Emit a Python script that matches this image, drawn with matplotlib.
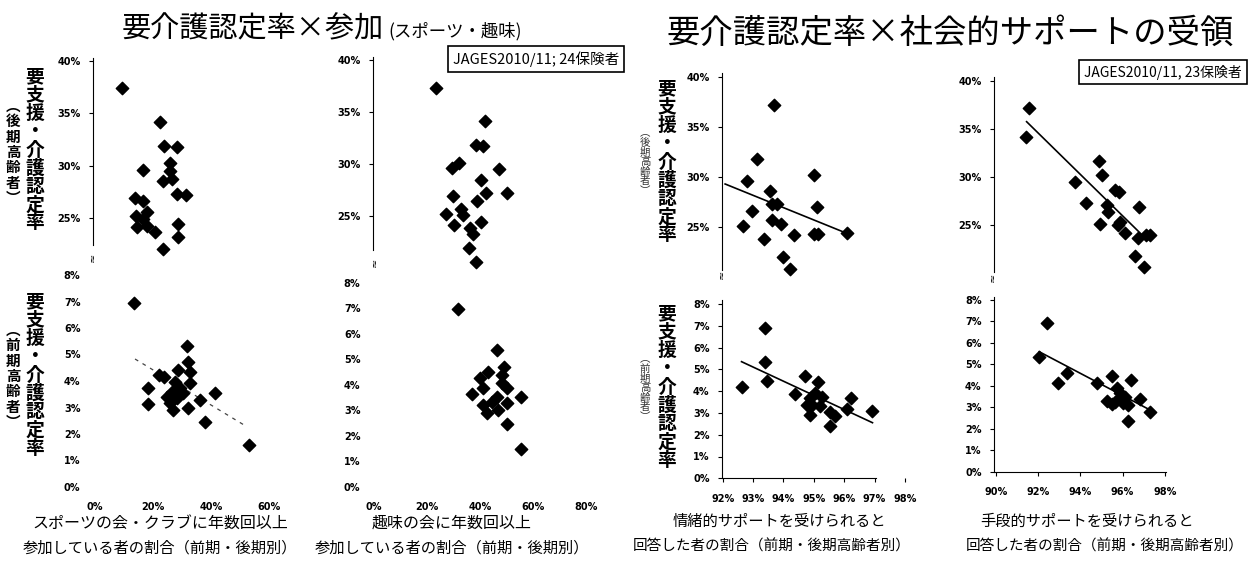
import matplotlib.pyplot as plt

plt.rcParams['font.family'] = ['Noto Sans CJK JP', 'DejaVu Sans']

W, H = 1258, 563

# --- data (percent) ---
sport_late_x = [9.4, 22.4, 23.8, 28.4, 16.4, 25.9, 25.9, 23.3, 26.4, 28.2, 31.4,
                13.7, 16.4, 17.8, 14.1, 16.7, 14.4, 17.8, 20.7, 28.7, 28.7, 23.6]
sport_late_y = [37.4, 34.2, 31.9, 31.8, 29.6, 30.3, 29.5, 28.5, 28.7, 27.3, 27.2,
                26.9, 26.6, 25.6, 25.2, 24.9, 24.1, 24.2, 23.7, 24.4, 23.2, 22.0]
sport_early_x = [13.6, 31.6, 32.2, 28.7, 22.2, 23.9, 32.8, 32.8, 18.4, 18.4, 27.6, 29.3,
                 24.7, 25.9, 27.0, 28.2, 32.2, 36.2, 41.4, 37.9, 53.2, 30.4, 26.4]
sport_early_y = [6.93, 5.33, 4.73, 4.42, 4.23, 4.16, 4.35, 3.91, 3.72, 3.13, 3.97, 3.72,
                 3.41, 3.16, 2.91, 3.35, 2.97, 3.28, 3.54, 2.46, 1.58, 3.54, 3.60]
sport_early_fit_x = [13.8, 52.3]
sport_early_fit_y = [4.83, 2.28]

hobby_late_x = [23.4, 41.9, 38.4, 41.2, 32.2, 29.3, 47.2, 40.3, 42.2, 50.1, 29.7,
                39.0, 27.1, 32.8, 33.5, 30.2, 36.2, 37.5, 40.4, 36.0, 38.5]
hobby_late_y = [37.3, 34.1, 31.8, 31.7, 30.1, 29.6, 29.5, 28.5, 27.2, 27.2, 26.9,
                26.4, 25.2, 25.7, 25.1, 24.1, 23.8, 23.3, 24.4, 21.9, 20.6]
hobby_early_x = [31.8, 46.5, 49.2, 43.1, 48.2, 40.0, 48.2, 41.2, 50.1, 37.1, 55.4,
                 46.3, 44.4, 41.2, 50.1, 46.9, 42.5, 50.1, 55.5]
hobby_early_y = [6.96, 5.36, 4.71, 4.51, 4.38, 4.25, 4.05, 3.86, 3.86, 3.64, 3.51,
                 3.53, 3.33, 3.20, 3.27, 3.01, 2.88, 2.46, 1.48]

emo_late_x = [93.70, 93.14, 92.79, 95.01, 93.56, 93.78, 93.61, 95.11, 92.97, 93.61,
              93.92, 92.68, 93.37, 94.36, 95.01, 95.15, 96.08, 93.99, 94.21]
emo_late_y = [37.2, 31.8, 29.6, 30.2, 28.6, 27.3, 27.3, 27.0, 26.6, 25.7,
              25.3, 25.1, 23.8, 24.2, 24.3, 24.3, 24.4, 22.0, 20.8]
emo_late_fit_x = [92.08, 96.08]
emo_late_fit_y = [29.27, 24.34]
emo_early_x = [93.39, 93.39, 93.45, 92.62, 94.71, 94.38, 95.14, 95.04, 94.87, 95.26,
               94.93, 95.20, 94.87, 95.53, 95.70, 95.53, 96.21, 96.10, 96.93, 94.76]
emo_early_y = [6.88, 5.32, 4.48, 4.20, 4.71, 3.87, 4.43, 3.90, 3.67, 3.74,
               3.36, 3.32, 2.90, 3.06, 2.87, 2.40, 3.67, 3.17, 3.10, 3.36]
emo_early_fit_x = [92.62, 96.93]
emo_early_fit_y = [5.35, 2.55]

inst_late_x = [91.58, 91.41, 94.90, 95.01, 93.74, 94.25, 95.64, 95.84, 95.25, 95.32,
               96.79, 94.93, 95.88, 95.80, 96.11, 96.74, 97.11, 97.30, 96.59, 97.01]
inst_late_y = [37.19, 34.12, 31.68, 30.20, 29.50, 27.26, 28.64, 28.46, 27.08, 26.38,
               26.90, 25.07, 25.34, 25.00, 24.20, 23.62, 23.96, 23.96, 21.78, 20.67]
inst_late_fit_x = [91.45, 97.01]
inst_late_fit_y = [35.74, 23.78]
inst_early_x = [92.40, 92.05, 93.35, 92.95, 94.77, 95.48, 96.38, 95.72, 95.88, 96.11,
                95.25, 95.64, 96.00, 96.27, 96.82, 97.30, 96.27, 95.88, 95.48]
inst_early_y = [6.94, 5.33, 4.61, 4.15, 4.15, 4.46, 4.27, 3.89, 3.65, 3.49,
                3.31, 3.26, 3.19, 3.11, 3.39, 2.80, 2.38, 3.42, 3.15]
inst_early_fit_x = [92.05, 97.45]
inst_early_fit_y = [5.59, 2.80]

late_ticks = [25, 30, 35, 40]
early_ticks = [0, 1, 2, 3, 4, 5, 6, 7, 8]
sport_xticks = [0, 20, 40, 60]
hobby_xticks = [0, 20, 40, 60, 80]
emo_xticks = [92, 93, 94, 95, 96, 97, 98]
inst_xticks = [90, 92, 94, 96, 98]

fig = plt.figure(figsize=(W / 100, H / 100), dpi=100)


def add_panel(box, xcal, ycal):
    # box: left, right, top, bottom in pixels; cal: (pixel, value, px per unit)
    l, r, t, b = box
    ax = fig.add_axes([l / W, 1 - b / H, (r - l) / W, (b - t) / H])
    ax.set_xlim(xcal[1] + (l - xcal[0]) / xcal[2], xcal[1] + (r - xcal[0]) / xcal[2])
    ax.set_ylim(ycal[1] + (ycal[0] - b) / ycal[2], ycal[1] + (ycal[0] - t) / ycal[2])
    ax.patch.set_alpha(0)
    for s in ['top', 'right']:
        ax.spines[s].set_visible(False)
    ax.tick_params(labelsize=7, length=3, width=0.8, pad=3)
    return ax


def pct(ticks):
    return ['%d%%' % v for v in ticks]


def scatter(ax, xs, ys):
    ax.scatter(xs, ys, marker='D', s=40, color='black', clip_on=False, zorder=3)


def top_style(ax):
    ax.spines['bottom'].set_visible(False)
    ax.set_xticks([])
    ax.set_yticks(late_ticks)
    ax.set_yticklabels(pct(late_ticks), fontsize=7, fontweight='bold', family='DejaVu Sans')
    ax.tick_params(axis='y', pad=6)


def bottom_style(ax, xticks, spines):
    ax.set_yticks(early_ticks)
    ax.set_yticklabels(pct(early_ticks), fontsize=7, fontweight='bold', family='DejaVu Sans')
    ax.set_xticks(xticks)
    ax.set_xticklabels(pct(xticks), fontsize=7, fontweight='bold', family='DejaVu Sans')
    if not spines:
        ax.spines['left'].set_visible(False)
        ax.spines['bottom'].set_visible(False)
        ax.tick_params(length=0, pad=9)
    else:
        ax.tick_params(axis='y', pad=6)
        ax.tick_params(axis='x', pad=8)


# column 1: sports
ax = add_panel((93, 290, 58, 245), (95, 0, 2.9), (61, 40, 10.47))
top_style(ax)
scatter(ax, sport_late_x, sport_late_y)
ax = add_panel((93, 290, 268, 490), (95, 0, 2.9), (487, 0, 26.5))
bottom_style(ax, sport_xticks, False)
ax.plot(sport_early_fit_x, sport_early_fit_y, color='#444444', lw=0.9, ls=(0, (3, 4)))
scatter(ax, sport_early_x, sport_early_y)

# column 2: hobby
ax = add_panel((373, 600, 57, 250), (374, 0, 2.65), (60, 40, 10.4))
top_style(ax)
scatter(ax, hobby_late_x, hobby_late_y)
ax = add_panel((373, 600, 275, 490), (374, 0, 2.65), (486.7, 0, 25.5))
bottom_style(ax, hobby_xticks, False)
scatter(ax, hobby_early_x, hobby_early_y)

# column 3: emotional support
ax = add_panel((722, 905, 73, 270), (722.7, 92, 30.4), (76.7, 40, 10))
top_style(ax)
ax.plot(emo_late_fit_x, emo_late_fit_y, color='black', lw=1.2)
scatter(ax, emo_late_x, emo_late_y)
ax = add_panel((722, 905, 300, 478.3), (722.7, 92, 30.4), (478.3, 0, 21.8))
bottom_style(ax, emo_xticks, True)
ax.spines['bottom'].set_bounds(92, 97.05)
ax.plot(emo_early_fit_x, emo_early_fit_y, color='black', lw=1.2)
scatter(ax, emo_early_x, emo_early_y)

# column 4: instrumental support
ax = add_panel((994, 1166, 77, 272), (996, 90, 21.1), (80.7, 40, 9.62))
top_style(ax)
ax.plot(inst_late_fit_x, inst_late_fit_y, color='black', lw=1.2)
scatter(ax, inst_late_x, inst_late_y)
ax = add_panel((994, 1166, 297, 471.7), (996, 90, 21.1), (471.7, 0, 21.46))
bottom_style(ax, inst_xticks, True)
ax.plot(inst_early_fit_x, inst_early_fit_y, color='black', lw=1.2)
scatter(ax, inst_early_x, inst_early_y)


def ftext(x, y, s, **kw):
    fig.text(x / W, 1 - y / H, s, **kw)


# axis break marks
for bx, by in [(93, 257), (375, 262), (722, 274), (993, 277)]:
    ftext(bx, by, '≈', fontsize=8, ha='center', va='center', rotation=90, family='DejaVu Sans')

# titles
ftext(122, 37, '要介護認定率×参加', fontsize=21, ha='left', va='baseline')
ftext(388, 36, '(スポーツ・趣味)', fontsize=12.5, ha='left', va='baseline')
ftext(666, 43, '要介護認定率×社会的サポートの受領', fontsize=24, ha='left', va='baseline')

# source boxes
box = dict(boxstyle='square,pad=0.35', fc='white', ec='black', lw=1.2)
ftext(536, 59, 'JAGES2010/11; 24保険者', fontsize=10.5, ha='center', va='center', bbox=box)
ftext(1163, 72, 'JAGES2010/11, 23保険者', fontsize=10, ha='center', va='center', bbox=box)

# vertical y labels
vlabel = '\n'.join('要支援・介護認定率')
for x, y in [(35, 150), (35, 375), (667, 162), (667, 387)]:
    ftext(x, y, vlabel, fontsize=13.5, fontweight='bold', ha='center', va='center',
          linespacing=0.95)
late_lab = '\n'.join('︵後期高齢者︶')
early_lab = '\n'.join('︵前期高齢者︶')
ftext(13, 152, late_lab, fontsize=10.5, fontweight='bold', ha='center', va='center', linespacing=0.95)
ftext(13, 376, early_lab, fontsize=10.5, fontweight='bold', ha='center', va='center', linespacing=0.95)
ftext(645, 162, late_lab, fontsize=7.5, ha='center', va='center', linespacing=0.95, color='#333333')
ftext(645, 388, early_lab, fontsize=7.5, ha='center', va='center', linespacing=0.95, color='#333333')

# x labels
ftext(160, 523, 'スポーツの会・クラブに年数回以上', fontsize=11.5, ha='center', va='center')
ftext(160, 548, '参加している者の割合（前期・後期別）', fontsize=11, ha='center', va='center')
ftext(452, 523, '趣味の会に年数回以上', fontsize=11.5, ha='center', va='center')
ftext(452, 548, '参加している者の割合（前期・後期別）', fontsize=11, ha='center', va='center')
ftext(779, 521, '情緒的サポートを受けられると', fontsize=11, ha='center', va='center')
ftext(772, 546, '回答した者の割合（前期・後期高齢者別）', fontsize=10.5, ha='center', va='center')
ftext(1087, 521, '手段的サポートを受けられると', fontsize=11, ha='center', va='center')
ftext(1105, 546, '回答した者の割合（前期・後期高齢者別）', fontsize=10.5, ha='center', va='center')

fig.savefig('out.png', dpi=100)
